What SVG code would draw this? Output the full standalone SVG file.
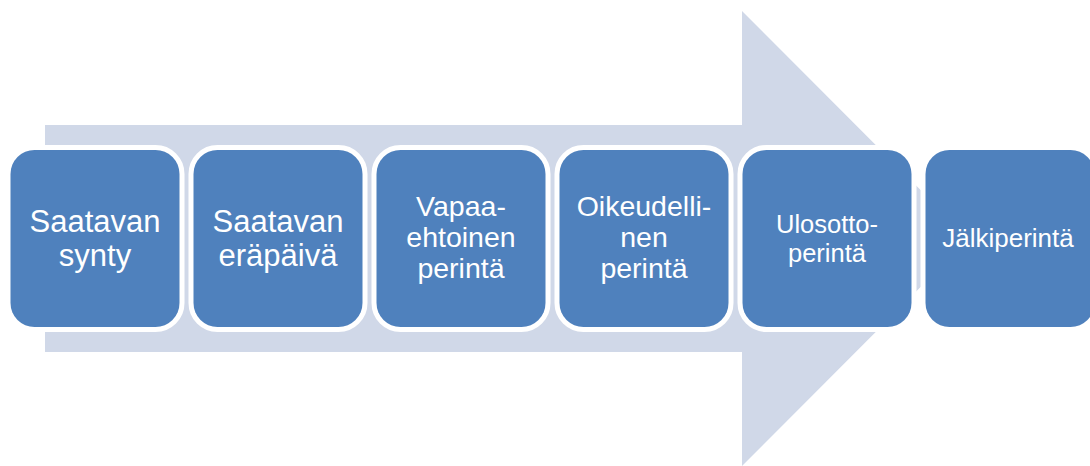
<svg xmlns="http://www.w3.org/2000/svg" width="1090" height="466" viewBox="0 0 1090 466">
<style>
.box{fill:#4F81BD;stroke:#FFFFFF;stroke-width:10;paint-order:stroke}
.t{fill:#FFFFFF;font-family:"Liberation Sans",Arial,sans-serif;text-anchor:middle}
</style>
<rect width="1090" height="466" fill="#FFFFFF"/>
<g id="connectors">
<polygon id="bigArrow" points="45,125 742,125 742,11 969,238.5 742,466 742,352 45,352" fill="#D0D8E8"/>
</g>
<g id="n1"><rect class="box" x="10.5" y="150" width="169" height="177" rx="24"/>
<text class="t" font-size="31"><tspan x="95" y="232">Saatavan</tspan><tspan x="95" y="266">synty</tspan></text></g>
<g id="n2"><rect class="box" x="193.5" y="150" width="169" height="177" rx="24"/>
<text class="t" font-size="31"><tspan x="278" y="232">Saatavan</tspan><tspan x="278" y="266">eräpäivä</tspan></text></g>
<g id="n3"><rect class="box" x="376.5" y="150" width="169" height="177" rx="24"/>
<text class="t" font-size="28.5"><tspan x="461" y="216">Vapaa-</tspan><tspan x="461" y="247">ehtoinen</tspan><tspan x="461" y="278">perintä</tspan></text></g>
<g id="n4"><rect class="box" x="559.5" y="150" width="169" height="177" rx="24"/>
<text class="t" font-size="28.5"><tspan x="644" y="216">Oikeudelli-</tspan><tspan x="644" y="247">nen</tspan><tspan x="644" y="278">perintä</tspan></text></g>
<g id="n5"><rect class="box" x="742.5" y="150" width="169" height="177" rx="24"/>
<text class="t" font-size="25.5"><tspan x="827" y="233">Ulosotto-</tspan><tspan x="827" y="262">perintä</tspan></text></g>
<g id="n6"><rect class="box" x="925.5" y="150" width="169" height="177" rx="24"/>
<text class="t" font-size="26"><tspan x="1008" y="247">Jälkiperintä</tspan></text></g>
</svg>
